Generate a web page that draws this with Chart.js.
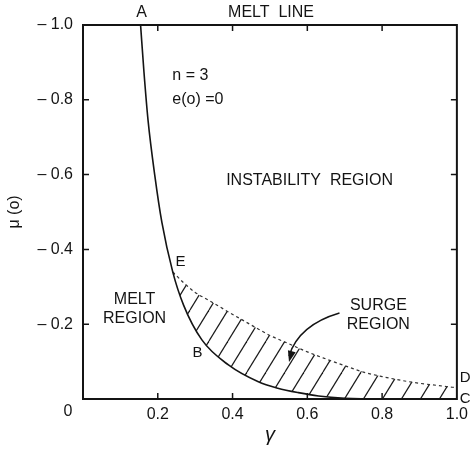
<!DOCTYPE html>
<html><head><meta charset="utf-8">
<script src="https://cdn.jsdelivr.net/npm/chart.js@4"></script>
<style>html,body{margin:0;padding:0;background:#fff;} #wrap{width:474px;height:450px;position:relative;}</style>
</head><body><div id="wrap"><canvas id="c"></canvas></div>
<script>
// ---- data ----
const meltLineGamma = [0.154,0.163,0.174,0.192,0.211,0.24,0.269,0.318,0.389,0.469,0.521,0.576,0.63,0.70,0.80,1.0];
const meltLineMu    = [-1.0,-0.875,-0.745,-0.598,-0.472,-0.34,-0.251,-0.158,-0.091,-0.046,-0.029,-0.017,-0.008,-0.002,0,0];
const surgeLimitGamma = [0.24,0.27,0.30,0.34,0.38,0.42,0.46,0.50,0.55,0.60,0.65,0.70,0.75,0.80,0.85,0.90,0.95,1.00];
const surgeLimitMu    = [-0.34,-0.31,-0.285,-0.262,-0.238,-0.215,-0.192,-0.170,-0.148,-0.126,-0.107,-0.089,-0.072,-0.060,-0.050,-0.042,-0.036,-0.030];
const xTicks = [0,0.2,0.4,0.6,0.8,1.0];
const yTicks = [-1.0,-0.8,-0.6,-0.4,-0.2,0];

const FONT = "'Liberation Sans', Helvetica, Arial, sans-serif";
const INK = '#141414';

function hatchPattern(ctx){
  const w=19,h=31;
  const c=document.createElement('canvas'); c.width=w; c.height=h;
  const g=c.getContext('2d');
  g.strokeStyle='#1a1a1a'; g.lineWidth=1.2;
  for (const o of [-w,0,w]) { g.beginPath(); g.moveTo(o,h); g.lineTo(o+w,0); g.stroke(); }
  return ctx.createPattern(c,'repeat');
}

const labels = [
  {t:'A', x:0.157, y:-1.032, a:'center', s:16},
  {t:'MELT  LINE', x:0.503, y:-1.032, a:'center', s:16},
  {t:'n = 3', x:0.239, y:-0.866, a:'left', s:16},
  {t:'e(o) =0', x:0.239, y:-0.80, a:'left', s:16},
  {t:'INSTABILITY  REGION', x:0.606, y:-0.583, a:'center', s:16},
  {t:'MELT', x:0.138, y:-0.267, a:'center', s:16},
  {t:'REGION', x:0.138, y:-0.214, a:'center', s:16},
  {t:'E', x:0.261, y:-0.366, a:'center', s:15},
  {t:'B', x:0.306, y:-0.123, a:'center', s:15},
  {t:'SURGE', x:0.79, y:-0.251, a:'center', s:16},
  {t:'REGION', x:0.79, y:-0.200, a:'center', s:16},
  {t:'D', x:1.008, y:-0.056, a:'left', s:15},
  {t:'C', x:1.008, y:0.0, a:'left', s:15},
  {t:'0', x:-0.04, y:0.035, a:'center', s:16}
];

const overlay = {
  id:'overlay',
  afterDatasetsDraw(chart){
    const {ctx, chartArea:ca, scales:{x,y}} = chart;
    ctx.save();
    ctx.strokeStyle=INK; ctx.lineWidth=2;
    ctx.strokeRect(ca.left, ca.top, ca.right-ca.left, ca.bottom-ca.top);
    ctx.lineWidth=1.5;
    const L=6;
    ctx.beginPath();
    xTicks.forEach(v=>{ if(v<=0||v>=1) return; const px=x.getPixelForValue(v);
      ctx.moveTo(px,ca.bottom); ctx.lineTo(px,ca.bottom-L);
      ctx.moveTo(px,ca.top); ctx.lineTo(px,ca.top+L); });
    yTicks.forEach(v=>{ if(v<=-1||v>=0) return; const py=y.getPixelForValue(v);
      ctx.moveTo(ca.left,py); ctx.lineTo(ca.left+L,py);
      ctx.moveTo(ca.right,py); ctx.lineTo(ca.right-L,py); });
    ctx.stroke();
    ctx.fillStyle=INK; ctx.textBaseline='middle';
    labels.forEach(l=>{
      ctx.font = l.s+'px '+FONT;
      ctx.textAlign=l.a;
      ctx.fillText(l.t, x.getPixelForValue(l.x), y.getPixelForValue(l.y));
    });
    const p0=[x.getPixelForValue(0.686), y.getPixelForValue(-0.230)];
    const pc=[x.getPixelForValue(0.577), y.getPixelForValue(-0.198)];
    const p2=[x.getPixelForValue(0.551), y.getPixelForValue(-0.099)];
    ctx.lineWidth=1.5; ctx.strokeStyle=INK;
    ctx.beginPath(); ctx.moveTo(p0[0],p0[1]); ctx.quadraticCurveTo(pc[0],pc[1],p2[0],p2[1]-6); ctx.stroke();
    const ang=Math.atan2(p2[1]-pc[1], p2[0]-pc[0]);
    const hl=11, hw=4;
    ctx.beginPath();
    ctx.moveTo(p2[0],p2[1]);
    ctx.lineTo(p2[0]-hl*Math.cos(ang)+hw*Math.sin(ang), p2[1]-hl*Math.sin(ang)-hw*Math.cos(ang));
    ctx.lineTo(p2[0]-hl*Math.cos(ang)-hw*Math.sin(ang), p2[1]-hl*Math.sin(ang)+hw*Math.cos(ang));
    ctx.closePath(); ctx.fill();
    ctx.restore();
  }
};

const canvas=document.getElementById('c');
const ctx=canvas.getContext('2d');

new Chart(ctx,{
  type:'line',
  data:{
    datasets:[
      {label:'melt line', data:meltLineGamma.map((g,i)=>({x:g,y:meltLineMu[i]})),
       borderColor:INK, borderWidth:1.6, pointRadius:0, cubicInterpolationMode:'monotone', fill:false},
      {label:'surge limit', data:surgeLimitGamma.map((g,i)=>({x:g,y:surgeLimitMu[i]})),
       borderColor:'#333', borderWidth:1.2, borderDash:[3,3], pointRadius:0, cubicInterpolationMode:'monotone',
       fill:{target:0}, backgroundColor:hatchPattern(ctx)}
    ]
  },
  options:{
    responsive:true, maintainAspectRatio:false, animation:false,
    layout:{padding:{left:0,right:15,top:25,bottom:0}},
    plugins:{legend:{display:false}, tooltip:{enabled:false}},
    scales:{
      x:{type:'linear', min:0, max:1,
         afterBuildTicks:s=>{ s.ticks=xTicks.map(v=>({value:v})); },
         afterFit:s=>{ s.height=51; },
         grid:{display:false, drawTicks:false}, border:{display:false},
         ticks:{padding:6, color:INK, font:{family:FONT,size:16}, maxRotation:0,
                callback:v=> v===0 ? '' : v.toFixed(1)},
         title:{display:true, text:'γ', color:INK, font:{family:FONT,size:20,style:'italic'}, padding:{top:0,bottom:3}}
      },
      y:{type:'linear', min:-1, max:0, reverse:true,
         afterBuildTicks:s=>{ s.ticks=yTicks.map(v=>({value:v})); },
         afterFit:s=>{ s.width=83; },
         grid:{display:false, drawTicks:false}, border:{display:false},
         ticks:{padding:10, color:INK, font:{family:FONT,size:16},
                callback:v=> v===0 ? '' : '\u2013 ' + Math.abs(v).toFixed(1)},
         title:{display:true, text:'μ (o)', color:INK, font:{family:FONT,size:16}, padding:{top:5,bottom:0}}
      }
    }
  },
  plugins:[overlay]
});
</script></body></html>
